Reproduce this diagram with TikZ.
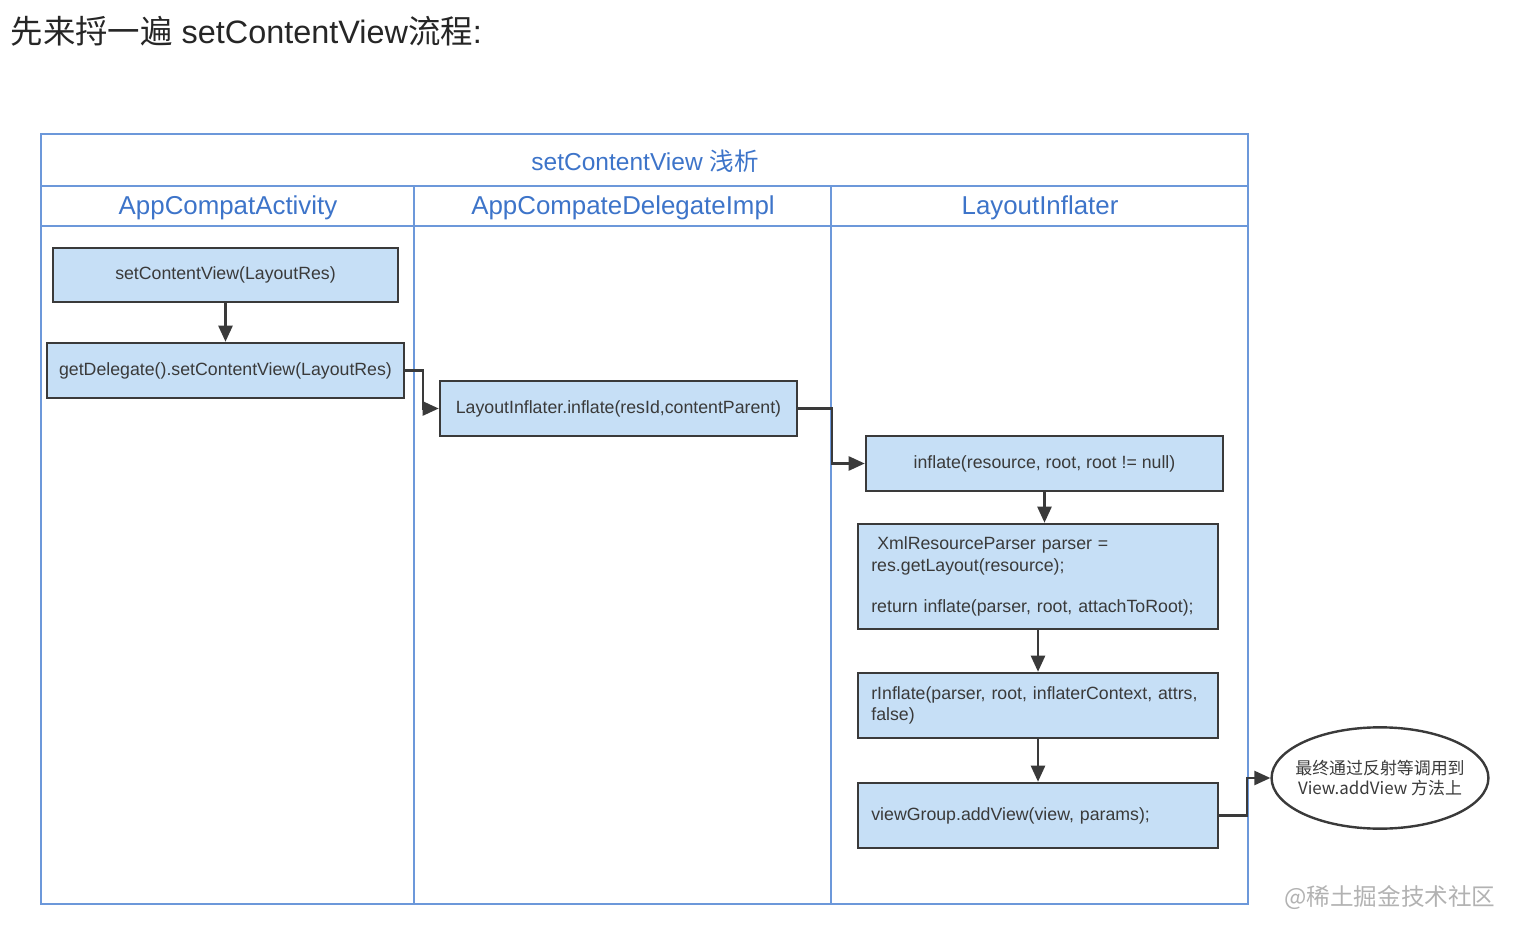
\documentclass[tikz,border=0pt]{standalone}
\usepackage{fontspec}
\setmainfont{Liberation Sans}
\newfontfamily\cjk{Noto Sans CJK SC}
\usetikzlibrary{arrows.meta,shapes.geometric}
\definecolor{laneblue}{HTML}{6C98DA}
\definecolor{headblue}{HTML}{3D74C9}
\definecolor{boxfill}{HTML}{C6DFF6}
\definecolor{boxline}{HTML}{3A3A3A}

\begin{document}
\begin{tikzpicture}[
  x=0.75pt, y=-0.75pt,
  >={Triangle[length=12pt,width=10.5pt]},
  lane/.style={draw=laneblue, line width=1.1pt},
  head/.style={text=headblue, font=\fontsize{19.4}{22}\selectfont},
  box/.style={draw=boxline, fill=boxfill, line width=1.9pt, text=boxline,
              font=\fontsize{13.3}{16}\selectfont, minimum width=267.75pt, minimum height=41.25pt},
  code/.style={box, align=left, text width=250pt, inner xsep=10pt, minimum width=270pt},
  arr/.style={->, draw=boxline, line width=1.8pt}
]
  \useasboundingbox (0,0) rectangle (1518,952);

  \node[anchor=west, text=black!85, font=\fontsize{24.3}{28}\selectfont] (title) at (6,31)
    {{\cjk 先来捋一遍} setContentView{\cjk 流程}:};

  % swimlanes
  \draw[lane] (41,134) rectangle (1248,904);
  \draw[lane] (41,186) -- (1248,186);
  \draw[lane] (41,226) -- (1248,226);
  \draw[lane] (414,186) -- (414,904);
  \draw[lane] (831,186) -- (831,904);

  \node[head, font=\fontsize{18.4}{22}\selectfont] (pool) at (645,161) {setContentView {\cjk 浅析}};
  \node[head] (lane1) at (228,208) {AppCompatActivity};
  \node[head] (lane2) at (623,208) {AppCompateDelegateImpl};
  \node[head] (lane3) at (1040,208) {LayoutInflater};

  % steps
  \node[box, minimum width=258.75pt, minimum height=40.5pt] (set) at (225.5,275) {setContentView(LayoutRes)};
  \node[box] (deleg) at (225.5,370.5) {getDelegate().setContentView(LayoutRes)};
  \node[box] (lfinfl) at (618.5,408.5) {LayoutInflater.inflate(resId,contentParent)};
  \node[box] (infl) at (1044.5,463.5) {inflate(resource, root, root != null)};
  \node[code, minimum height=78.75pt] (parse) at (1038,576.5)
    {\ XmlResourceParser parser =\\res.getLayout(resource);\\[15pt]return inflate(parser, root, attachToRoot);};
  \node[code, minimum height=48.75pt] (rinfl) at (1038,705.5)
    {rInflate(parser, root, inflaterContext, attrs,\\false)};
  \node[code, minimum height=48.75pt] (add) at (1038,815.5) {viewGroup.addView(view, params);};
  \node[ellipse, draw=boxline, line width=1.8pt, minimum width=161pt, minimum height=76pt,
        inner xsep=-6pt, inner ysep=0pt, align=center, text=boxline,
        font=\cjk\fontsize{12.7}{15.5}\selectfont] (note) at (1380,778)
    {最终通过反射等调用到\\View.addView 方法上};

  \node[text=black!30, font=\cjk\fontsize{17.7}{20}\selectfont] (mark) at (1390,898) {@稀土掘金技术社区};

  % flow
  \draw[arr] (set) -- (deleg);
  \draw[arr] (deleg.east) -- ++(18,0) |- (lfinfl.west);
  \draw[arr] (lfinfl.east) -- ++(34,0) |- (infl.west);
  \draw[arr] (infl.south) -- (infl.south |- parse.north);
  \draw[arr] (parse) -- (rinfl);
  \draw[arr] (rinfl) -- (add);
  \draw[arr] (add.east) -- ++(28,0) |- (note.west);
\end{tikzpicture}
\end{document}
